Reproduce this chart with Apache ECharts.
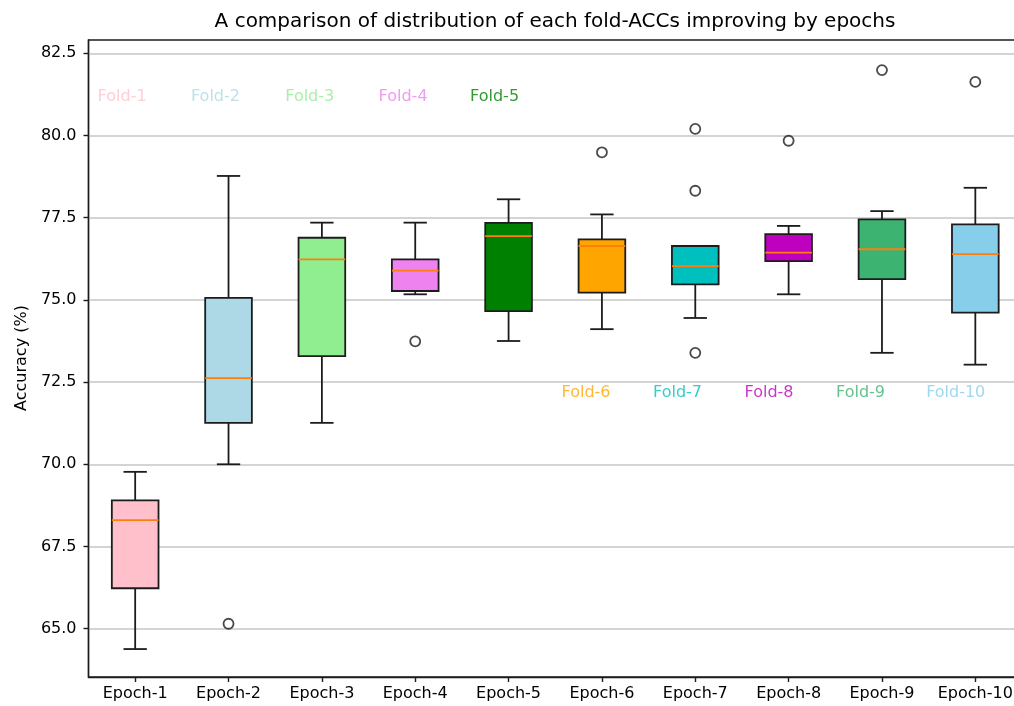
<!DOCTYPE html>
<html><head><meta charset="utf-8">
<script src="https://cdn.jsdelivr.net/npm/echarts@6/dist/echarts.min.js"></script>
<style>html,body{margin:0;padding:0;background:#fff}#c{width:1014px;height:706px}</style>
</head><body><div id="c"></div>
<script>
// ---- data ----
const epochs = ['Epoch-1','Epoch-2','Epoch-3','Epoch-4','Epoch-5','Epoch-6','Epoch-7','Epoch-8','Epoch-9','Epoch-10'];
const whiskerLow  = [64.38, 70.00, 71.26, 75.17, 73.75, 74.11, 74.45, 75.17, 73.39, 73.03];
const q1          = [66.23, 71.26, 73.29, 75.27, 74.66, 75.22, 75.47, 76.18, 75.63, 74.61];
const medians     = [68.30, 72.62, 76.23, 75.89, 76.94, 76.64, 76.03, 76.44, 76.54, 76.39];
const q3          = [68.90, 75.06, 76.89, 76.23, 77.34, 76.84, 76.64, 77.00, 77.45, 77.30];
const whiskerHigh = [69.77, 78.77, 77.35, 77.35, 78.06, 77.60, 76.64, 77.25, 77.70, 78.41];
const outlierEpoch  = [1, 3, 5, 6, 6, 6, 7, 8, 9];
const outlierValues = [65.15, 73.74, 79.49, 80.20, 78.32, 73.39, 79.84, 81.99, 81.63];
const yTicks = [65.0, 67.5, 70.0, 72.5, 75.0, 77.5, 80.0, 82.5];
const foldNames = ['Fold-1','Fold-2','Fold-3','Fold-4','Fold-5','Fold-6','Fold-7','Fold-8','Fold-9','Fold-10'];

// ---- styles / annotation placement ----
const boxColors = ['#FFC0CB','#ADD8E6','#90EE90','#EE82EE','#008000','#FFA500','#00BFBF','#BF00BF','#3CB371','#87CEEB'];
const foldPosX = [0.86, 1.86, 2.87, 3.87, 4.85, 5.83, 6.81, 7.79, 8.77, 9.79];
const foldPosY = [81.17, 81.17, 81.17, 81.17, 81.17, 72.18, 72.18, 72.18, 72.18, 72.18];
const FONT = 'DejaVu Sans';
const INK = '#1c1c1c';
const LW = 1.8;

const boxData = epochs.map((e, i) => [i, whiskerLow[i], q1[i], medians[i], q3[i], whiskerHigh[i]]);
const outlierData = outlierEpoch.map((e, k) => [e, outlierValues[k]]);
const foldData = foldNames.map((n, i) => ({
  value: [foldPosX[i], foldPosY[i]], name: n,
  label: { color: boxColors[i] }
}));

const chart = echarts.init(document.getElementById('c'), null, {renderer: 'canvas'});
chart.setOption({
  animation: false,
  backgroundColor: '#fff',
  textStyle: { fontFamily: FONT },
  grid: { left: 88.5, top: 40, width: 933.5, height: 637, show: true, borderColor: INK, borderWidth: 1.4,
          containLabel: false, outerBoundsMode: 'none' },
  graphic: [
    { type: 'text', x: 555, y: 22, style: { text: 'A comparison of distribution of each fold-ACCs improving by epochs',
      font: '20px "DejaVu Sans"', fill: '#000', textAlign: 'center', textVerticalAlign: 'middle' } },
    { type: 'text', x: 22, y: 358, rotation: Math.PI / 2, style: { text: 'Accuracy (%)',
      font: '16px "DejaVu Sans"', fill: '#000', textAlign: 'center', textVerticalAlign: 'middle' } }
  ],
  xAxis: [
    { type: 'category', data: epochs, boundaryGap: true,
      axisLine: { show: true, lineStyle: { color: INK, width: 1.4 } },
      axisTick: { show: true, alignWithLabel: true, length: 5, lineStyle: { color: INK, width: 1.4 } },
      axisLabel: { color: '#000', fontSize: 16, fontFamily: FONT, margin: 9, interval: 0 },
      splitLine: { show: false } },
    { type: 'value', min: 0.5, max: 10.5, show: false, splitLine: { show: false } }
  ],
  yAxis: {
    type: 'value', min: 63.53, max: 82.905,
    axisLine: { show: true, lineStyle: { color: INK, width: 1.4 } },
    axisTick: { show: true, length: 5, customValues: yTicks, lineStyle: { color: INK, width: 1.4 } },
    axisLabel: { color: '#000', fontSize: 16, fontFamily: FONT, margin: 12, customValues: yTicks,
      formatter: v => Number(v).toFixed(1) },
    splitLine: { show: true, lineStyle: { color: '#c6c6c6', width: 1.5 } }
  },
  series: [
    {
      type: 'custom', xAxisIndex: 0, yAxisIndex: 0, data: boxData, clip: false, z: 3,
      renderItem(params, api) {
        const i = api.value(0);
        const lo = api.coord([i, api.value(1)]);
        const b1 = api.coord([i, api.value(2)]);
        const md = api.coord([i, api.value(3)]);
        const b3 = api.coord([i, api.value(4)]);
        const hi = api.coord([i, api.value(5)]);
        const band = api.size([1, 0])[0];
        const hw = band * 0.25, cw = band * 0.125;
        const x = lo[0];
        const ls = { stroke: INK, lineWidth: LW };
        return { type: 'group', children: [
          { type: 'line', shape: { x1: x, y1: lo[1], x2: x, y2: b1[1] }, style: ls },
          { type: 'line', shape: { x1: x, y1: b3[1], x2: x, y2: hi[1] }, style: ls },
          { type: 'line', shape: { x1: x - cw, y1: lo[1], x2: x + cw, y2: lo[1] }, style: ls },
          { type: 'line', shape: { x1: x - cw, y1: hi[1], x2: x + cw, y2: hi[1] }, style: ls },
          { type: 'rect', shape: { x: x - hw, y: b3[1], width: 2 * hw, height: b1[1] - b3[1] },
            style: { fill: boxColors[i], stroke: INK, lineWidth: LW } },
          { type: 'line', shape: { x1: x - hw, y1: md[1], x2: x + hw, y2: md[1] },
            style: { stroke: '#ff7f0e', lineWidth: LW } }
        ]};
      }
    },
    {
      type: 'scatter', xAxisIndex: 0, yAxisIndex: 0, data: outlierData, z: 4,
      symbol: 'circle', symbolSize: 10,
      itemStyle: { color: '#fff', borderColor: INK, borderWidth: 1.8 }
    },
    {
      type: 'scatter', xAxisIndex: 1, yAxisIndex: 0, data: foldData, z: 5,
      symbolSize: 0,
      label: { show: true, position: 'inside', formatter: p => p.name, fontSize: 16, fontFamily: FONT }
    }
  ]
});
</script></body></html>
